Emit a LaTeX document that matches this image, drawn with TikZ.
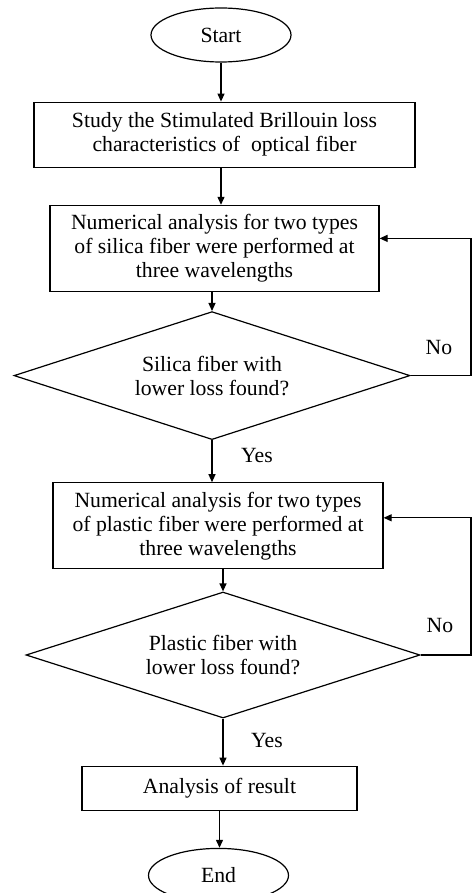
\documentclass[tikz,border=0pt]{standalone}
\usepackage{fontspec}
\setmainfont{Liberation Serif}
\usepackage{tikz}
\usetikzlibrary{positioning,shapes.geometric,arrows.meta}

\begin{document}
\begin{tikzpicture}[x=1pt, y=1pt, line width=1.2pt, >={Triangle[length=8pt,width=7pt]},
	font=\fontsize{21.7}{24}\selectfont,
	terminal/.style={draw, ellipse, minimum width=140pt, minimum height=54pt, inner sep=0pt},
	procbox/.style={draw, rectangle, align=center, inner sep=0pt},
	decision/.style={draw, diamond, shape aspect=3, align=center, inner sep=0pt},
	lbl/.style={inner sep=0pt}]
	\useasboundingbox (0,0) rectangle (472,-893);
	\node[terminal] (start) at (221,-35) {Start};
	\node[procbox, minimum width=381pt, minimum height=65pt, below=39pt of start, xshift=3.5pt] (study) {Study the Stimulated Brillouin loss\\characteristics of\ \ optical fiber};
	\node[procbox, minimum width=329pt, minimum height=86pt, below=37pt of study, xshift=-10pt] (silica) {Numerical analysis for two types\\of silica fiber were performed at\\three wavelengths};
	\node[decision, minimum width=396pt, minimum height=128pt, below=19pt of silica, xshift=-2.5pt] (silicachk) {Silica fiber with\\lower loss found?};
	\node[procbox, minimum width=330pt, minimum height=86pt, below=42pt of silicachk, xshift=6pt] (plastic) {Numerical analysis for two types\\of plastic fiber were performed at\\three wavelengths};
	\node[decision, minimum width=394pt, minimum height=126pt, below=22pt of plastic, xshift=5pt] (plasticchk) {Plastic fiber with\\lower loss found?};
	\node[procbox, minimum width=275pt, minimum height=44pt, below=47pt of plasticchk, xshift=-3.5pt] (result) {Analysis of result};
	\node[terminal, below=37pt of result, xshift=-1pt] (end) {End};
	\coordinate (loopx) at (471,0);
	
	\node[lbl] (no1) at (439,-347) {No};
	\node[lbl] (yes1) at (257,-455) {Yes};
	\node[lbl] (no2) at (440,-625) {No};
	\node[lbl] (yes2) at (267,-740) {Yes};
	
	\draw[->] (start) -- (start |- study.north);
	\draw[->] (start |- study.south) -- (start |- silica.north);
	\draw[->] (silicachk |- silica.south) -- (silicachk);
	\draw[->] (silicachk) -- (silicachk |- plastic.north);
	\draw[->] (plasticchk |- plastic.south) -- (plasticchk);
	\draw[->] (plasticchk) -- (plasticchk |- result.north);
	\draw[->] (result) -- (result |- end.north);
	\draw[->] (silicachk.east) -- (silicachk.east -| loopx) |- ([yshift=10pt]silica.east);
	\draw[->] (plasticchk.east) -- (plasticchk.east -| loopx) |- ([yshift=8pt]plastic.east);
\end{tikzpicture}
\end{document}
